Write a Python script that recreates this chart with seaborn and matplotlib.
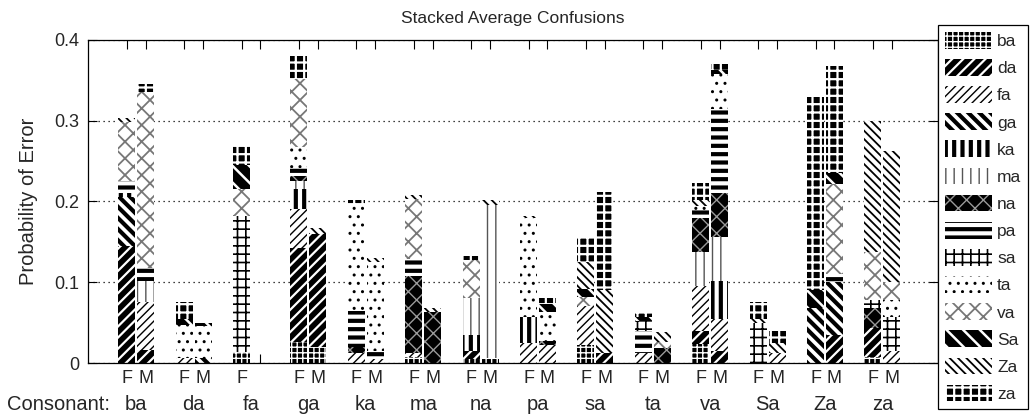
import numpy as np
import pandas as pd
import matplotlib
matplotlib.use("Agg")
import matplotlib.pyplot as plt
import matplotlib.patches as mpatches
import matplotlib.transforms as mtransforms
import seaborn as sns

# ---------------- data ----------------
consonants = ['ba', 'da', 'fa', 'ga', 'ka', 'ma', 'na', 'pa', 'sa', 'ta', 'va', 'Sa', 'Za', 'za']
genders = ['F', 'M']
# tick labels under each bar (the M bar of "fa" is absent)
bar_labels = ['F', 'M', 'F', 'M', 'F', '', 'F', 'M', 'F', 'M', 'F', 'M', 'F', 'M',
              'F', 'M', 'F', 'M', 'F', 'M', 'F', 'M', 'F', 'M', 'F', 'M', 'F', 'M']
responses = ['ba', 'da', 'fa', 'ga', 'ka', 'ma', 'na', 'pa', 'sa', 'ta', 'va', 'Sa', 'Za', 'za']

# probability of each response, per bar (pairs F, M for ba, da, fa, ... za)
resp_ba = [0, 0, 0, 0, .014, 0, .026, .020, 0, 0, .007, 0, .005, .006, 0, 0, .022, 0, 0, 0, .024, 0, 0, 0, 0, 0, .007, 0]
resp_da = [.145, .016, 0, 0, 0, 0, .117, .140, 0, 0, 0, 0, .010, 0, 0, 0, 0, .012, 0, 0, .016, .015, 0, 0, 0, .035, .036, 0]
resp_fa = [0, .060, .006, 0, 0, 0, .048, 0, .012, .005, .005, 0, 0, 0, .025, .022, .048, 0, .012, 0, .055, .040, 0, .012, 0, 0, 0, .015]
resp_ga = [.060, 0, 0, .006, 0, 0, 0, 0, 0, 0, 0, 0, 0, 0, 0, 0, 0, 0, 0, 0, 0, 0, 0, 0, .068, .065, 0, 0]
resp_ka = [.005, 0, 0, 0, 0, 0, .025, 0, 0, 0, 0, 0, .020, 0, .032, 0, 0, 0, 0, 0, 0, .047, 0, 0, 0, 0, 0, 0]
resp_ma = [0, .025, 0, 0, 0, 0, .010, 0, 0, 0, 0, 0, .045, .190, 0, 0, 0, 0, 0, 0, .042, .054, 0, 0, 0, 0, 0, 0]
resp_na = [0, 0, 0, 0, 0, 0, .006, 0, .008, 0, .096, .063, 0, 0, 0, .005, 0, 0, 0, .018, .043, .055, 0, 0, 0, 0, .025, 0]
resp_pa = [.015, .017, 0, 0, 0, 0, .010, 0, .045, .010, .021, 0, 0, 0, 0, 0, 0, 0, .028, 0, .010, .104, 0, 0, 0, .010, 0, 0]
resp_sa = [0, 0, 0, 0, .168, 0, 0, 0, 0, 0, 0, 0, 0, 0, 0, 0, 0, 0, .012, 0, 0, 0, .050, 0, 0, 0, .010, .042]
resp_ta = [0, 0, .041, .040, 0, 0, .025, 0, .131, .110, 0, 0, 0, 0, .122, .036, 0, 0, 0, 0, .005, .043, 0, 0, 0, 0, 0, .021]
resp_va = [.073, .218, 0, 0, .033, 0, .085, 0, 0, 0, .074, 0, .047, 0, 0, 0, .012, 0, 0, .008, 0, 0, 0, 0, 0, .112, .059, .022]
resp_Sa = [0, 0, .008, .004, .030, 0, 0, 0, 0, 0, 0, 0, 0, 0, 0, .010, .010, 0, .005, 0, 0, .005, 0, 0, .022, .013, 0, 0]
resp_Za = [.005, 0, 0, 0, 0, 0, 0, .007, 0, .005, .005, .005, 0, .006, .003, 0, .033, .078, 0, .012, .007, 0, .005, .013, 0, 0, .163, .162]
resp_za = [0, .009, .020, 0, .024, 0, .028, 0, .006, 0, 0, 0, .006, 0, 0, .007, .030, .122, .005, 0, .021, .007, .020, .015, .240, .133, 0, 0]
y_ticks = [0, 0.1, 0.2, 0.3, 0.4]
y_tick_labels = ['0', '0.1', '0.2', '0.3', '0.4']

layers = [resp_ba, resp_da, resp_fa, resp_ga, resp_ka, resp_ma, resp_na,
          resp_pa, resp_sa, resp_ta, resp_va, resp_Sa, resp_Za, resp_za]

# ---------------- styles (face, hatch colour, hatch, hatch linewidth) ----------------
styles = {
    'ba': ('black', 'white', '+++', 1.0),
    'da': ('black', 'white', '///', 1.6),
    'fa': ('white', 'black', '////', 1.0),
    'ga': ('white', 'black', '\\\\\\', 3.0),
    'ka': ('white', 'black', '||', 3.0),
    'ma': ('white', '#555555', '||', 1.0),
    'na': ('black', '#999999', 'xx', 1.0),
    'pa': ('white', 'black', '--', 3.0),
    'sa': ('white', 'black', '++', 1.2),
    'ta': ('white', 'black', '..', 1.0),
    'va': ('white', '#777777', 'xx', 1.3),
    'Sa': ('black', 'white', '\\\\', 1.8),
    'Za': ('white', 'black', '\\\\\\\\', 1.3),
    'za': ('black', 'white', '++', 1.6),
}

sns.set_style('white')
plt.rcParams['font.family'] = ['Liberation Sans', 'DejaVu Sans']
plt.rcParams['hatch.linewidth'] = 1.2

W, H = 1032, 419
fig = plt.figure(figsize=(W / 100, H / 100), dpi=100)
ax_l, ax_r, ax_t, ax_b = 88, 938, 40, 363
ax = fig.add_axes([ax_l / W, (H - ax_b) / H, (ax_r - ax_l) / W, (ax_b - ax_t) / H])

vals = np.array(layers, dtype=float)
cum = np.cumsum(vals, axis=0)
bar_cons = np.repeat(consonants, 2)
bar_gender = np.tile(genders, len(consonants))

# stacked bars: draw cumulative totals from the top layer down
for k in reversed(range(len(responses))):
    face, hc, hatch, hlw = styles[responses[k]]
    df = pd.DataFrame({'consonant': bar_cons, 'gender': bar_gender, 'p': cum[k]})
    n0 = len(ax.patches)
    sns.barplot(data=df, x='consonant', y='p', hue='gender', order=consonants,
                hue_order=genders, dodge=True, width=0.66, gap=0.1,
                errorbar=None, legend=False, ax=ax, palette=[face, face],
                saturation=1, linewidth=0)
    for p in ax.patches[n0:]:
        p.set_facecolor(face)
        p.set_edgecolor(hc)
        p.set_linewidth(0)
        p.set_hatch(hatch)
        if hasattr(p, 'set_hatch_linewidth'):
            p.set_hatch_linewidth(hlw)

# ---------------- axes ----------------
xl = (ax_l - 136.2) / 57.4
xr = (ax_r - 136.2) / 57.4
ax.set_xlim(xl, xr)
ax.set_ylim(0, 0.4)
pos = []
for i in range(len(consonants)):
    pos += [i - 0.165, i + 0.165]
ax.set_xticks(pos)
ax.set_xticklabels(bar_labels, fontsize=13)
ax.set_yticks(y_ticks)
ax.set_yticklabels(y_tick_labels, fontsize=13)
ax.tick_params(axis='both', direction='in', length=6.5, width=0.8, color='black',
               top=True, right=True, bottom=True, left=True)
ax.tick_params(axis='x', pad=5)
ax.tick_params(axis='y', pad=6)
ax.set_xlabel('')
ax.set_ylabel('Probability of Error', fontsize=14.5)
ax.yaxis.set_label_coords((38 - ax_l) / (ax_r - ax_l), 0.5)
ax.set_title('Stacked Average Confusions', fontsize=12.5, pad=12)
ax.yaxis.grid(True, linestyle=(0, (1, 3)), color='black', linewidth=0.9)
ax.xaxis.grid(False)
ax.set_axisbelow(True)
for s in ax.spines.values():
    s.set_visible(True)
    s.set_color('black')
    s.set_linewidth(0.9)

# consonant labels row
trans = mtransforms.blended_transform_factory(ax.transData, fig.transFigure)
ycons = (H - 404) / H
for i, c in enumerate(consonants):
    ax.text(i, ycons, c, transform=trans, ha='center', va='center', fontsize=14.5)
fig.text(7 / W, ycons, 'Consonant:', ha='left', va='center', fontsize=14.5)

# ---------------- legend ----------------
handles = []
for r in responses:
    face, hc, hatch, hlw = styles[r]
    handles.append(mpatches.Patch(facecolor=face, edgecolor=hc, hatch=hatch, linewidth=0, label=r))
leg = fig.legend(handles=handles, loc='upper left', bbox_to_anchor=(938 / W, (H - 25) / H),
                 bbox_transform=fig.transFigure, fontsize=12.5, handlelength=2.7,
                 handleheight=1.1, labelspacing=0.57, handletextpad=0.3, borderpad=0.4,
                 borderaxespad=0, fancybox=False, framealpha=1, edgecolor='black')
leg.get_frame().set_linewidth(0.9)
for p, r in zip(leg.get_patches(), responses):
    face, hc, hatch, hlw = styles[r]
    p.set_edgecolor(hc)
    p.set_linewidth(0)
    if hasattr(p, 'set_hatch_linewidth'):
        p.set_hatch_linewidth(hlw)

fig.savefig('out.png', dpi=100)
